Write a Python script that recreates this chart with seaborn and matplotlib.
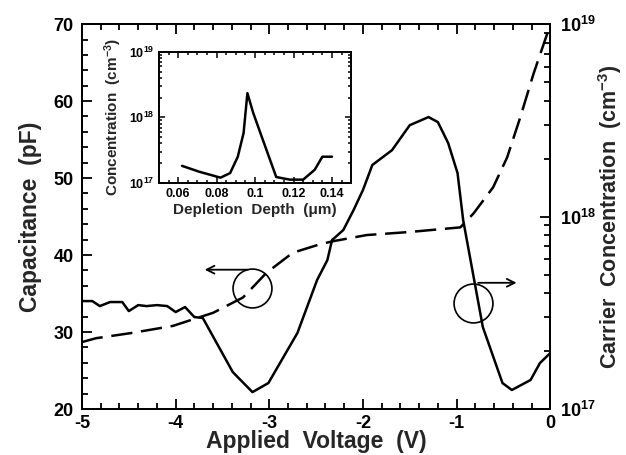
import numpy as np
import matplotlib
matplotlib.use("Agg")
import matplotlib.pyplot as plt
import seaborn as sns
from matplotlib.ticker import MultipleLocator, LogLocator, FixedLocator, FixedFormatter, NullFormatter

# capacitance (dashed, left axis)
cap_v = [-5.0, -4.85, -4.46, -4.03, -3.6, -3.28, -3.03, -2.75, -2.46, -2.32,
         -1.96, -1.5, -0.96, -0.82, -0.61, -0.46, -0.32, -0.18, -0.02]
cap_pf = [28.7, 29.2, 29.9, 30.8, 32.5, 34.5, 37.7, 40.3, 41.4, 41.8,
          42.6, 43.0, 43.6, 45.4, 48.8, 52.7, 57.9, 63.5, 69.2]

# carrier concentration (solid, right axis)
conc_v = [-4.99, -4.89, -4.81, -4.70, -4.57, -4.50, -4.40, -4.31, -4.20, -4.09,
          -4.00, -3.90, -3.80, -3.71, -3.39, -3.18, -3.01, -2.70, -2.49, -2.38,
          -2.33, -2.21, -2.10, -2.00, -1.90, -1.69, -1.50, -1.30, -1.20, -1.09,
          -0.99, -0.93, -0.72, -0.51, -0.41, -0.21, -0.11, 0.0]
conc_log = [17.561, 17.561, 17.535, 17.556, 17.556, 17.509, 17.540, 17.535, 17.540, 17.535,
            17.504, 17.530, 17.478, 17.473, 17.192, 17.088, 17.135, 17.395, 17.670, 17.774,
            17.878, 17.930, 18.034, 18.138, 18.268, 18.345, 18.475, 18.517, 18.491, 18.382,
            18.226, 17.982, 17.426, 17.135, 17.099, 17.151, 17.239, 17.291]

# inset profile
depth_um = [0.062, 0.071, 0.082, 0.087, 0.091, 0.094, 0.096, 0.099, 0.104, 0.111,
            0.118, 0.125, 0.131, 0.135, 0.140]
prof_log = [17.26, 17.17, 17.08, 17.15, 17.40, 17.76, 18.37, 18.07, 17.66, 17.09,
            17.05, 17.05, 17.20, 17.40, 17.40]

sns.set_style("ticks")
plt.rcParams['font.family'] = ['Liberation Sans', 'DejaVu Sans']
plt.rcParams['font.weight'] = 'bold'
plt.rcParams['axes.unicode_minus'] = False
plt.rcParams['mathtext.fontset'] = 'custom'
plt.rcParams['mathtext.bf'] = 'Liberation Sans:bold'
plt.rcParams['mathtext.rm'] = 'Liberation Sans:bold'
plt.rcParams['mathtext.default'] = 'bf'
plt.rcParams['xtick.color'] = 'black'
plt.rcParams['ytick.color'] = 'black'
plt.rcParams['axes.edgecolor'] = 'black'

fig = plt.figure(figsize=(6.26, 4.55), dpi=100)
ax = fig.add_axes([0.131, 0.101, 0.748, 0.846])
ax2 = ax.twinx()

sns.lineplot(x=cap_v, y=cap_pf, ax=ax, color='black', lw=1.8,
             linestyle=(0, (8.5, 3.5)))
sns.lineplot(x=conc_v, y=10 ** np.array(conc_log), ax=ax2, color='black', lw=1.8)

ax.set_xlim(-5, 0)
ax.set_ylim(20, 70)
ax2.set_yscale('log')
ax2.set_ylim(1e17, 1e19)

ax.xaxis.set_major_locator(MultipleLocator(1))
ax.xaxis.set_minor_locator(MultipleLocator(0.2))
ax.yaxis.set_major_locator(MultipleLocator(10))
ax.yaxis.set_minor_locator(MultipleLocator(2))
ax.tick_params(which='both', direction='in', top=True, right=False, labelsize=13, width=1.3)
ax.tick_params(which='major', length=7)
ax.tick_params(which='minor', length=4)
ax.tick_params(axis='x', pad=4)
ax.tick_params(axis='y', pad=6)
for t in ax.get_xticklabels() + ax.get_yticklabels():
    t.set_fontweight('bold')

ax2.yaxis.set_major_locator(FixedLocator([1e17, 1e18, 1e19]))
ax2.yaxis.set_major_formatter(FixedFormatter([r'$10^{17}$', r'$10^{18}$', r'$10^{19}$']))
ax2.yaxis.set_minor_locator(LogLocator(base=10, subs=np.arange(2, 10)))
ax2.yaxis.set_minor_formatter(NullFormatter())
ax2.tick_params(which='both', direction='in', labelsize=13, width=1.3)
ax2.tick_params(which='major', length=7, pad=7)
ax2.tick_params(which='minor', length=4)

for a in (ax, ax2):
    for s in a.spines.values():
        s.set_linewidth(1.4)
        s.set_visible(True)

ax.set_xlabel('Applied  Voltage  (V)', fontsize=16.5, fontweight='bold', labelpad=-1)
ax.set_ylabel('Capacitance  (pF)', fontsize=16.5, fontweight='bold', labelpad=8)
ax2.set_ylabel('Carrier  Concentration  (cm$^{-3}$)', fontsize=15.5, fontweight='bold', labelpad=0)

# circles and arrows
ax.plot([-3.18], [35.7], 'o', ms=28, mfc='none', mec='black', mew=1.2)
ax.annotate('', xy=(-3.72, 38.1), xytext=(-3.2, 38.1),
            arrowprops=dict(arrowstyle='->', color='black', lw=1.3, mutation_scale=14))
ax.plot([-0.82], [33.8], 'o', ms=28, mfc='none', mec='black', mew=1.2)
ax.annotate('', xy=(-0.33, 36.4), xytext=(-0.80, 36.4),
            arrowprops=dict(arrowstyle='->', color='black', lw=1.3, mutation_scale=14))

# inset
ins = fig.add_axes([0.254, 0.598, 0.307, 0.288])
sns.lineplot(x=depth_um, y=10 ** np.array(prof_log), ax=ins, color='black', lw=1.8)
ins.set_xlim(0.05, 0.15)
ins.set_yscale('log')
ins.set_ylim(1e17, 1e19)
ins.xaxis.set_major_locator(FixedLocator([0.06, 0.08, 0.10, 0.12, 0.14]))
ins.xaxis.set_major_formatter(FixedFormatter(['0.06', '0.08', '0.1', '0.12', '0.14']))
ins.xaxis.set_minor_locator(MultipleLocator(0.005))
ins.yaxis.set_major_locator(FixedLocator([1e17, 1e18, 1e19]))
ins.yaxis.set_major_formatter(FixedFormatter([r'$10^{17}$', r'$10^{18}$', r'$10^{19}$']))
ins.yaxis.set_minor_locator(LogLocator(base=10, subs=np.arange(2, 10)))
ins.yaxis.set_minor_formatter(NullFormatter())
ins.tick_params(which='both', direction='in', top=True, right=True, labelsize=9, width=1.1)
ins.tick_params(which='major', length=4.5)
ins.tick_params(which='minor', length=2.5)
for t in ins.get_xticklabels():
    t.set_fontweight('bold')
for s in ins.spines.values():
    s.set_linewidth(1.4)
ins.set_xlabel('Depletion  Depth  (μm)', fontsize=11, fontweight='bold', labelpad=2)
ins.set_ylabel('Concentration  (cm$^{-3}$)', fontsize=11, fontweight='bold', labelpad=3)

fig.savefig('out.png', dpi=100)
